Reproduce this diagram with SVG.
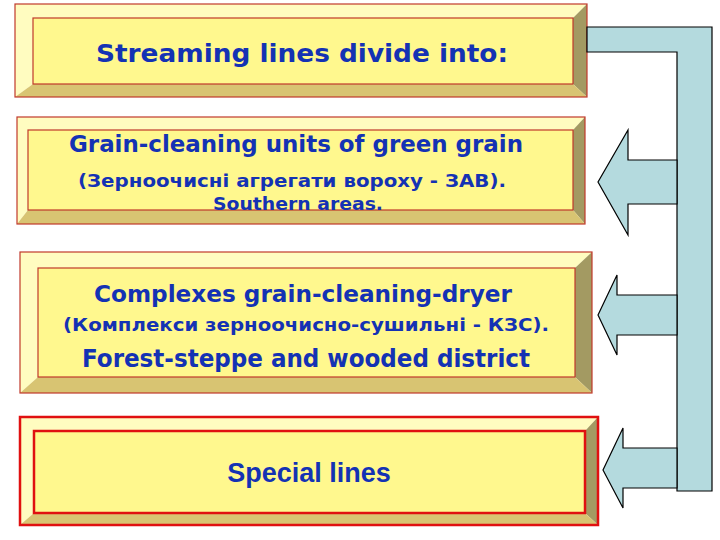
<svg xmlns="http://www.w3.org/2000/svg" width="720" height="540" viewBox="0 0 720 540">
<style>
.face{fill:#fff88e}
.tl{fill:#fffcc0}
.rt{fill:#a39a62}
.bt{fill:#d8c472}
.edge{fill:none;stroke:#c0392b;stroke-width:1.2}
.t{font-family:"DejaVu Sans",Verdana,sans-serif;font-weight:bold;fill:#1432b4;text-anchor:middle}
.conn{fill:#b4dade;stroke:#000;stroke-width:1.2}
</style>
<rect width="720" height="540" fill="#fff"/>
<g id="n1">
<polygon class="tl" points="15,4 587,4 573,18 33,18 33,84 15,97"/>
<polygon class="rt" points="587,4 587,97 573,84 573,18"/>
<polygon class="bt" points="15,97 587,97 573,84 33,84"/>
<rect class="face" x="33" y="18" width="540" height="66"/>
<rect class="edge" x="15" y="4" width="572" height="93"/><rect class="edge" x="33" y="18" width="540" height="66"/>
<text class="t" x="302" y="62" font-size="24" textLength="412" lengthAdjust="spacingAndGlyphs">Streaming lines divide into:</text>
</g>
<g id="n2">
<polygon class="tl" points="17,117 585,117 573,130 28,130 28,210 17,224"/>
<polygon class="rt" points="585,117 585,224 573,210 573,130"/>
<polygon class="bt" points="17,224 585,224 573,210 28,210"/>
<rect class="face" x="28" y="130" width="545" height="80"/>
<rect class="edge" x="17" y="117" width="568" height="107"/><rect class="edge" x="28" y="130" width="545" height="80"/>
<text class="t" x="296" y="152" font-size="23" textLength="454" lengthAdjust="spacingAndGlyphs">Grain-cleaning units of green grain</text>
<text class="t" x="292" y="187" font-size="18" textLength="428" lengthAdjust="spacingAndGlyphs">(Зерноочисні агрегати вороху - ЗАВ).</text>
<text class="t" x="298" y="210" font-size="18" textLength="170" lengthAdjust="spacingAndGlyphs">Southern areas.</text>
</g>
<g id="n3">
<polygon class="tl" points="20,252 592,252 575,268 38,268 38,377 20,393"/>
<polygon class="rt" points="592,252 592,393 575,377 575,268"/>
<polygon class="bt" points="20,393 592,393 575,377 38,377"/>
<rect class="face" x="38" y="268" width="537" height="109"/>
<rect class="edge" x="20" y="252" width="572" height="141"/><rect class="edge" x="38" y="268" width="537" height="109"/>
<text class="t" x="303" y="302" font-size="23" textLength="418" lengthAdjust="spacingAndGlyphs">Complexes grain-cleaning-dryer</text>
<text class="t" x="306" y="331" font-size="18" textLength="486" lengthAdjust="spacingAndGlyphs">(Комплекси зерноочисно-сушильні - КЗС).</text>
<text class="t" x="306" y="367" font-size="24" textLength="448" lengthAdjust="spacingAndGlyphs">Forest-steppe and wooded district</text>
</g>
<g id="n4">
<polygon class="tl" points="20,417 598,417 585,431 34,431 34,513 20,525"/>
<polygon class="rt" points="598,417 598,525 585,513 585,431"/>
<polygon class="bt" points="20,525 598,525 585,513 34,513"/>
<rect class="face" x="34" y="431" width="551" height="82"/>
<rect x="20" y="417" width="578" height="108" fill="none" stroke="#e01010" stroke-width="2.5"/>
<rect x="34" y="431" width="551" height="82" fill="none" stroke="#e01010" stroke-width="2.5"/>
<text x="309" y="482" font-family="Liberation Sans,Arial,sans-serif" font-weight="bold" font-size="27" fill="#1432b4" text-anchor="middle">Special lines</text>
</g>
<g id="connectors">
<polygon class="conn" points="587,27 712,27 712,491 677,491 677,52 587,52"/>
<polygon class="conn" points="677,160 628,160 628,130 598,182 628,235 628,204 677,204"/>
<polygon class="conn" points="677,295 617,295 617,275 598,315 617,355 617,335 677,335"/>
<polygon class="conn" points="677,448 623,448 623,428 603,470 623,508 623,488 677,488"/>
</g>
</svg>
